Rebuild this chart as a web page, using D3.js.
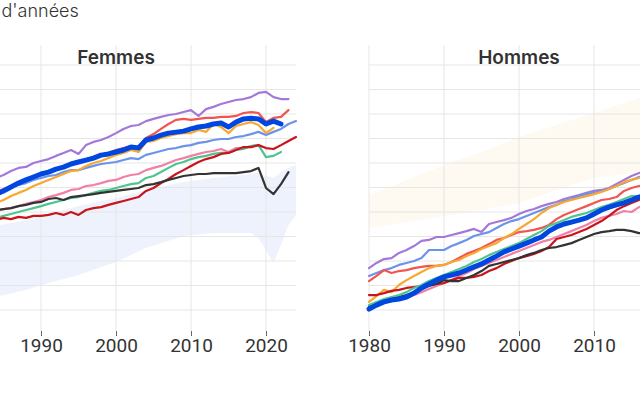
<!DOCTYPE html>
<html>
<head>
<meta charset="utf-8">
<script src="https://cdn.jsdelivr.net/npm/d3@7"></script>
<style>
  body { margin: 0; background: #fff; }
  svg { display: block; }
</style>
</head>
<body>
<div id="chart"></div>
<script>
// Espérance de vie à 65 ans, en nombre d'années
var xTicks = [1980, 1990, 2000, 2010, 2020];

// Femmes, from 1984
var femmesViolet = [19.39,19.51,19.67,19.80,19.84,20.00,20.08,20.16,20.29,20.41,20.53,20.37,20.73,20.86,20.94,21.06,21.22,21.39,21.51,21.55,21.71,21.80,21.88,21.96,22.00,22.08,22.16,21.92,22.20,22.29,22.41,22.49,22.57,22.61,22.69,22.86,22.90,22.69,22.61,22.61];
var femmesRouge = [18.82,18.94,19.06,19.18,19.31,19.39,19.51,19.63,19.76,19.84,19.96,20.04,20.16,20.24,20.33,20.41,20.53,20.61,20.69,20.65,21.02,21.18,21.39,21.59,21.76,21.80,21.76,21.80,21.84,21.84,21.88,21.88,21.92,22.04,22.08,22.04,21.67,21.84,21.88,22.16];
var femmesOrange = [18.37,18.49,18.65,18.78,18.90,19.06,19.18,19.31,19.43,19.55,19.67,19.71,19.88,20.00,20.08,20.20,20.33,20.41,20.53,20.45,20.86,20.90,21.02,21.10,21.18,21.22,21.22,21.35,21.27,21.59,21.47,21.22,21.51,21.59,21.67,21.55,21.22,21.43];
var femmesBleuClair = [18.82,18.90,19.02,19.10,19.18,19.31,19.39,19.47,19.51,19.63,19.71,19.71,19.80,19.88,19.96,20.00,20.04,20.12,20.20,20.16,20.33,20.41,20.49,20.57,20.61,20.69,20.73,20.82,20.86,20.94,20.98,20.98,21.06,21.10,21.18,21.27,21.14,21.27,21.39,21.59,21.71];
var femmesRose = [18.04,18.12,18.16,18.24,18.33,18.41,18.49,18.61,18.69,18.78,18.90,18.94,19.06,19.10,19.18,19.27,19.31,19.43,19.51,19.55,19.71,19.80,19.88,20.00,20.12,20.20,20.29,20.37,20.45,20.49,20.57,20.45,20.61,20.61,20.69,20.73];
var femmesVert = [17.76,17.84,17.92,18.00,18.08,18.16,18.24,18.33,18.41,18.49,18.57,18.61,18.69,18.78,18.86,18.90,18.98,19.06,19.14,19.18,19.39,19.47,19.63,19.80,19.96,20.04,20.16,20.24,20.29,20.37,20.41,20.41,20.53,20.57,20.69,20.73,20.24,20.29,20.45];
var femmesBordeaux = [17.67,17.76,17.71,17.80,17.76,17.84,17.84,17.88,17.96,17.88,18.00,17.88,18.08,18.16,18.20,18.29,18.37,18.45,18.53,18.61,18.86,18.98,19.18,19.35,19.55,19.71,19.88,20.04,20.16,20.24,20.37,20.41,20.53,20.65,20.65,20.73,20.61,20.57,20.73,20.90,21.06];
var femmesNoir = [18.08,18.12,18.16,18.24,18.29,18.37,18.41,18.53,18.57,18.49,18.61,18.65,18.69,18.73,18.78,18.82,18.86,18.90,18.94,18.98,19.10,19.14,19.22,19.31,19.39,19.47,19.51,19.55,19.55,19.59,19.59,19.59,19.59,19.63,19.67,19.80,18.98,18.73,19.14,19.63];
var femmesBleu = [18.73,18.86,19.02,19.18,19.31,19.43,19.55,19.63,19.75,19.83,19.96,20.04,20.12,20.20,20.32,20.37,20.45,20.53,20.65,20.61,20.94,21.02,21.14,21.22,21.26,21.30,21.39,21.47,21.51,21.59,21.63,21.47,21.67,21.80,21.83,21.80,21.59,21.71,21.59];

// Hommes, from 1980
var hommesViolet = [15.71,15.92,16.08,16.12,16.33,16.45,16.61,16.82,16.86,16.98,16.98,17.06,17.14,17.22,17.31,17.18,17.51,17.59,17.67,17.76,17.92,18.04,18.12,18.24,18.33,18.41,18.53,18.61,18.69,18.78,18.86,18.90,18.98,19.14,19.31,19.47,19.59,19.67];
var hommesRouge = [15.18,15.39,15.63,15.51,15.59,15.63,15.71,15.76,15.80,15.80,15.84,15.96,16.12,16.29,16.41,16.53,16.69,16.86,16.94,17.06,17.18,17.22,17.27,17.35,17.47,17.71,17.88,18.00,18.12,18.24,18.37,18.49,18.53,18.61,18.86,18.98,19.06,19.10];
var hommesOrange = [14.33,14.57,14.82,14.73,15.02,15.22,15.39,15.55,15.71,15.80,15.84,15.96,16.04,16.20,16.33,16.49,16.61,16.73,16.94,17.10,17.31,17.51,17.71,17.96,18.16,18.29,18.41,18.49,18.57,18.65,18.73,18.82,18.94,19.06,19.22,19.31,19.39,19.47];
var hommesBleuClair = [15.39,15.51,15.63,15.71,15.84,15.92,16.00,16.12,16.45,16.45,16.45,16.61,16.73,16.86,17.02,17.10,17.18,17.35,17.51,17.63,17.71,17.84,17.96,18.08,18.20,18.29,18.45,18.53,18.65,18.73,18.78,18.86,18.94,19.06,19.18,19.31,19.43,19.47];
var hommesRose = [14.12,14.20,14.29,14.37,14.41,14.49,14.61,14.73,14.86,14.98,15.10,15.22,15.39,15.51,15.67,15.80,15.92,16.04,16.16,16.29,16.41,16.53,16.65,16.78,16.86,16.98,17.10,17.22,17.35,17.47,17.63,17.76,17.84,17.92,18.04,18.00,18.20,18.29];
var hommesVert = [14.20,14.33,14.45,14.53,14.61,14.73,14.90,15.02,15.18,15.31,15.43,15.55,15.67,15.80,15.96,16.08,16.24,16.37,16.49,16.61,16.73,16.90,17.06,17.22,17.43,17.55,17.67,17.80,17.88,17.96,18.08,18.20,18.29,18.41,18.53,18.65,18.65,18.73];
var hommesBordeaux = [14.61,14.61,14.69,14.78,14.82,14.90,14.94,14.98,15.02,15.06,15.10,15.22,15.31,15.31,15.35,15.43,15.59,15.71,15.88,16.00,16.12,16.20,16.29,16.41,16.57,16.90,16.98,17.06,17.18,17.31,17.47,17.63,17.84,18.08,18.24,18.37,18.49,18.57];
var hommesNoir = [14.16,14.24,14.37,14.49,14.53,14.61,14.73,14.86,14.98,15.06,15.22,15.18,15.18,15.31,15.43,15.59,15.80,15.88,15.96,16.04,16.12,16.24,16.33,16.45,16.53,16.57,16.65,16.73,16.86,16.98,17.10,17.18,17.22,17.27,17.27,17.22,17.14,17.10];
var hommesBleu = [14.04,14.20,14.33,14.41,14.45,14.53,14.69,14.90,15.06,15.22,15.35,15.43,15.51,15.63,15.76,15.88,16.04,16.20,16.37,16.49,16.61,16.73,16.86,16.98,17.22,17.39,17.51,17.59,17.67,17.76,17.92,18.08,18.20,18.29,18.37,18.49,18.61,18.69];

// background ranges (other countries)
var bandeFemmesAnnees = [1980, 1984, 1988, 1991, 1995, 2000, 2004, 2009, 2013, 2018, 2019, 2020, 2021, 2022, 2023, 2024];
var bandeFemmesMin = [14.20,14.53,14.82,15.10,15.43,15.96,16.53,17.02,17.14,17.14,16.94,16.45,15.92,16.65,17.47,17.88];
var bandeFemmesMax = [16.86,17.43,17.67,17.92,18.24,18.57,18.90,19.22,19.39,19.55,19.63,19.47,19.39,19.63,19.80,19.92];
var bandeHommesAnnees = [1980, 1985, 1990, 1995, 2000, 2005, 2010, 2016, 2020, 2024];
var bandeHommesMin = [17.35,17.59,17.84,18.08,18.37,18.90,19.39,19.63,19.71,19.92];
var bandeHommesMax = [18.69,19.31,19.92,20.45,21.06,21.55,22.04,22.65,22.98,23.18];

var colors = {
  violet: "#a279d9", rouge: "#f2544f", orange: "#f7a830", bleuClair: "#6c93ea",
  rose: "#f17fa6", vert: "#4fc48f", bordeaux: "#c8141b", noir: "#333333", bleu: "#0046e0"
};

function series(start, list) {
  return list.map(function (s) {
    return {
      key: s[0], width: s[0] === "bleu" ? 5 : 2.2,
      values: s[1].map(function (v, i) { return {year: start + i, value: v}; })
    };
  });
}

var panels = [
  {
    title: "Femmes", left: -34,
    series: series(1984, [["violet", femmesViolet], ["rouge", femmesRouge], ["bleuClair", femmesBleuClair],
      ["rose", femmesRose], ["vert", femmesVert], ["bordeaux", femmesBordeaux], ["noir", femmesNoir],
      ["orange", femmesOrange], ["bleu", femmesBleu]]),
    band: {years: bandeFemmesAnnees, min: bandeFemmesMin, max: bandeFemmesMax, fill: "#eef2fc"}
  },
  {
    title: "Hommes", left: 369,
    series: series(1980, [["violet", hommesViolet], ["bleuClair", hommesBleuClair], ["rouge", hommesRouge],
      ["orange", hommesOrange], ["rose", hommesRose], ["bordeaux", hommesBordeaux], ["noir", hommesNoir],
      ["vert", hommesVert], ["bleu", hommesBleu]]),
    band: {years: bandeHommesAnnees, min: bandeHommesMin, max: bandeHommesMax, fill: "#fef9f1"}
  }
];

var width = 640, height = 400;
var plotW = 330, plotTop = 45, plotBottom = 331;

var svg = d3.select("#chart").append("svg")
  .attr("width", width)
  .attr("height", height);

svg.append("rect").attr("width", width).attr("height", height).attr("fill", "#fff");

svg.append("text")
  .attr("x", 1.5)
  .attr("y", 16.5)
  .style("font-family", "Inter, sans-serif")
  .style("font-weight", 300)
  .style("font-size", "18px")
  .attr("fill", "#333")
  .text("d'années");

var y = d3.scaleLinear().domain([13.143, 24.816]).range([plotBottom, plotTop]);

panels.forEach(function (p) {
  var x = d3.scaleLinear().domain([1980, 2024]).range([p.left, p.left + plotW]);
  var g = svg.append("g");

  // background range
  var bandData = p.band.years.map(function (yr, i) {
    return {year: yr, lo: p.band.min[i], hi: p.band.max[i]};
  });
  g.append("path")
    .datum(bandData)
    .attr("fill", p.band.fill)
    .attr("d", d3.area()
      .x(function (d) { return x(d.year); })
      .y0(function (d) { return y(d.lo); })
      .y1(function (d) { return y(d.hi); }));

  // grid
  g.selectAll(".hgrid")
    .data(y.ticks(10).filter(function (t) { return t >= 14; }))
    .enter().append("line")
    .attr("x1", x(1980)).attr("x2", x(2024))
    .attr("y1", function (d) { return y(d); })
    .attr("y2", function (d) { return y(d); })
    .attr("stroke", "#e6e6e6")
    .attr("stroke-width", 1);

  g.selectAll(".vgrid")
    .data(xTicks)
    .enter().append("line")
    .attr("x1", function (d) { return x(d); })
    .attr("x2", function (d) { return x(d); })
    .attr("y1", plotTop).attr("y2", plotBottom)
    .attr("stroke", "#e6e6e6")
    .attr("stroke-width", 1);

  // x axis, only the ticks inside the picture
  var visibleTicks = xTicks.filter(function (t) { return x(t) > 20 && x(t) < width - 20; });
  var axis = g.append("g")
    .attr("transform", "translate(0," + plotBottom + ")")
    .call(d3.axisBottom(x).tickValues(visibleTicks).tickSize(5).tickPadding(3).tickFormat(d3.format("d")));
  axis.select(".domain").remove();
  axis.selectAll(".tick line").attr("stroke", "#666");
  axis.selectAll(".tick text")
    .attr("fill", "#333")
    .style("font-family", "Roboto, sans-serif")
    .style("font-size", "19px");

  // title
  g.append("text")
    .attr("x", x(2000))
    .attr("y", 64)
    .attr("text-anchor", "middle")
    .style("font-family", "Inter, sans-serif")
    .style("font-weight", 600)
    .style("font-size", "19px")
    .attr("fill", "#333")
    .text(p.title);

  // lines
  var line = d3.line()
    .x(function (d) { return x(d.year); })
    .y(function (d) { return y(d.value); });

  g.selectAll(".serie")
    .data(p.series)
    .enter().append("path")
    .attr("fill", "none")
    .attr("stroke", function (d) { return colors[d.key]; })
    .attr("stroke-width", function (d) { return d.width; })
    .attr("stroke-linejoin", "round")
    .attr("stroke-linecap", "round")
    .attr("d", function (d) { return line(d.values); });
});
</script>
</body>
</html>
